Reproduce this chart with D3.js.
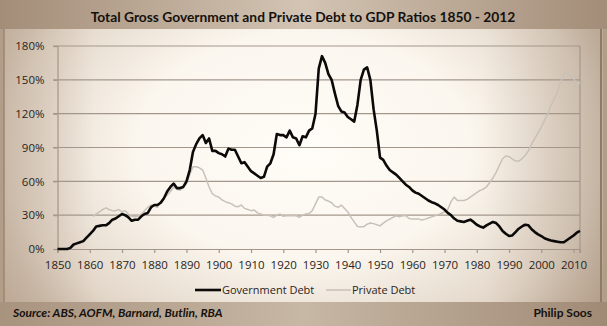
<!DOCTYPE html>
<html><head><meta charset="utf-8">
<script src="https://cdn.jsdelivr.net/npm/d3@7"></script>
<style>html,body{margin:0;padding:0;background:#fff;}svg{display:block;}</style>
</head><body>
<svg id="chart" width="607" height="326"></svg>
<script>
const startYear = 1850;
const govDebt = [0,0,0,0,1,4,5,6,7,10,13,16,20,20.5,21,21,23,26,27,29,31,30,28,25,26,26,29,31,32,37,39,39,41,45,51,55,58,54,54,55,60,70,86,93,98,101,94,98,87,87,85,84,82,89,88,88,82,76,77,73,69,67,65,63,64,73,76,84,102,101,101,99,105,99,98,92,100,99,105,107,120,160,171,165,155,150,138,127,122,121,117,115,113,128,150,159,161,150,124,105,81,79,74,70,68,66,63,60,57,55,52,50,49,47,45,43,41.5,40.5,39,37,35,32,30,27,25,24.5,24,25,26,24,21.5,20,19,21,22.5,24,23,20,16,13.5,11.5,12,15,18,20,21.5,21,17.5,15,13,11.5,9.5,8.5,7.5,7,6.5,6,6,8,10,12,14.5,16];
const privateStart = 1861;
const privateDebt = [29,31,33,35,36.5,35,34,34,35,33,34,31,29,28.5,29,31,34,37,39,38,37,42,45,48,51,55,53,52,55,58,66,73,73,72,70,63,55,49,47,46,43.5,42,41,40,38,37.5,39,36,35,34,34.5,32,31,30,30,29.5,28,30,31,29,29.5,29.5,29.5,29.5,28,30,31,31.5,34,40,46,46,43.5,42.5,41,38,37,39,36,33,28,24,20,19.8,19.8,22,23,22.5,21.5,20.5,23,25,26.5,28,29.5,28.6,29.5,29.5,27,26.5,26.5,26.5,25.7,26.5,27.5,28.5,29.5,30.5,31.5,33,35,42,46,43,43,43,44,46,48,50,52,53,55,59,63,68,74,80,82.5,82,80,78,78,80,83,87,93,98,103,108,114,120,127,133,139,148,155,156,153,152,144,148];
const yTicks = [0,30,60,90,120,150,180];
const xTicks = [1850,1860,1870,1880,1890,1900,1910,1920,1930,1940,1950,1960,1970,1980,1990,2000,2010];
const seriesNames = ["Government Debt","Private Debt"];
const titleText = "Total Gross Government and Private Debt to GDP Ratios 1850 - 2012";
const sourceText = "Source: ABS, AOFM, Barnard, Butlin, RBA";
const authorText = "Philip Soos";

const govData = govDebt.map((v,i)=>({year:startYear+i,value:v}));
const privData = privateDebt.map((v,i)=>({year:privateStart+i,value:v}));

const W=607,H=326;
const svg=d3.select("#chart");
const defs=svg.append("defs");

const rg=defs.append("radialGradient").attr("id","vig").attr("cx","0.5").attr("cy","0.45").attr("r","0.62").attr("gradientTransform","translate(0.5,0.45) scale(1,1.25) translate(-0.5,-0.45)");
rg.append("stop").attr("offset","0").attr("stop-color","#fffdf8");
rg.append("stop").attr("offset","0.45").attr("stop-color","#fbf6ee");
rg.append("stop").attr("offset","0.8").attr("stop-color","#e2d6c8");
rg.append("stop").attr("offset","1").attr("stop-color","#c4b19e");

const tg=defs.append("linearGradient").attr("id","band").attr("x1","0").attr("x2","1").attr("y1","0").attr("y2","0");
tg.append("stop").attr("offset","0").attr("stop-color","#a38d78");
tg.append("stop").attr("offset","0.5").attr("stop-color","#d3c4b3");
tg.append("stop").attr("offset","1").attr("stop-color","#a38d78");

const fg=defs.append("linearGradient").attr("id","foot").attr("x1","0").attr("x2","1").attr("y1","0").attr("y2","0");
fg.append("stop").attr("offset","0").attr("stop-color","#a8937e");
fg.append("stop").attr("offset","0.5").attr("stop-color","#c7b7a5");
fg.append("stop").attr("offset","1").attr("stop-color","#a08a75");

const lg=defs.append("linearGradient").attr("id","leftshade").attr("x1","0").attr("x2","1");
lg.append("stop").attr("offset","0").attr("stop-color","#b8a390").attr("stop-opacity",0.55);
lg.append("stop").attr("offset","0.15").attr("stop-color","#b8a390").attr("stop-opacity",0.0);
lg.append("stop").attr("offset","0.8").attr("stop-color","#b8a390").attr("stop-opacity",0.0);
lg.append("stop").attr("offset","1").attr("stop-color","#a08a75").attr("stop-opacity",0.45);

svg.append("rect").attr("width",W).attr("height",H).attr("fill","#b29d89");
svg.append("rect").attr("x",4).attr("y",0).attr("width",W-8).attr("height",H).attr("fill","url(#vig)");
svg.append("rect").attr("x",4).attr("y",0).attr("width",W-8).attr("height",H).attr("fill","url(#leftshade)");
svg.append("rect").attr("x",0).attr("y",0).attr("width",W).attr("height",29).attr("fill","url(#band)");
svg.append("rect").attr("x",0).attr("y",302).attr("width",W).attr("height",24).attr("fill","url(#foot)");
svg.append("line").attr("x1",4).attr("x2",4).attr("y1",29).attr("y2",302).attr("stroke","#9c8672").attr("stroke-width",1.5);
svg.append("line").attr("x1",601).attr("x2",601).attr("y1",29).attr("y2",302).attr("stroke","#8f7a66").attr("stroke-width",2);

const x=d3.scaleLinear().domain([1850,2012]).range([57.5,580]);
const y=d3.scaleLinear().domain([0,180]).range([249,46]);

const grid="#a3978b";
svg.append("g").selectAll("line").data(yTicks.filter(d=>d>0)).join("line")
  .attr("x1",53).attr("x2",580).attr("y1",d=>y(d)).attr("y2",d=>y(d))
  .attr("stroke",grid).attr("stroke-width",1.2);
svg.append("line").attr("x1",580).attr("x2",580).attr("y1",y(180)).attr("y2",y(0)).attr("stroke",grid).attr("stroke-width",1.2);

const yAxis=d3.axisLeft(y).tickValues(yTicks).tickSize(4).tickPadding(9).tickFormat(d=>d+"%");
const gy=svg.append("g").attr("transform","translate(57.5,0)").call(yAxis);
gy.select(".domain").attr("stroke",grid).attr("stroke-width",1.2);
gy.selectAll(".tick line").attr("stroke",grid).attr("stroke-width",1.2);
gy.selectAll("text").attr("font-family","'Open Sans',sans-serif").attr("font-size",11.5).attr("fill","#2a2420");

const xAxis=d3.axisBottom(x).tickValues(xTicks).tickSize(4).tickPadding(8).tickFormat(d3.format("d"));
const gx=svg.append("g").attr("transform","translate(0,249)").call(xAxis);
gx.select(".domain").attr("stroke",grid).attr("stroke-width",1.2);
gx.selectAll(".tick line").attr("stroke",grid).attr("stroke-width",1.2);
gx.selectAll("text").attr("font-family","'Open Sans',sans-serif").attr("font-size",11.5).attr("fill","#2a2420");
svg.append("line").attr("x1",580).attr("x2",580).attr("y1",249).attr("y2",253).attr("stroke",grid).attr("stroke-width",1.2);

const line=d3.line().x(d=>x(d.year)).y(d=>y(d.value));
svg.append("path").datum(privData).attr("d",line).attr("fill","none").attr("stroke","#c9c1b8").attr("stroke-width",1.5).attr("stroke-linejoin","round");
svg.append("path").datum(govData).attr("d",line).attr("fill","none").attr("stroke","#0b0a09").attr("stroke-width",2.6).attr("stroke-linejoin","round");

svg.append("text").attr("x",303).attr("y",22).attr("text-anchor","middle")
  .attr("font-family","Lato,sans-serif").attr("font-weight","bold").attr("font-size",13.8).attr("fill","#15110e").text(titleText);

const leg=svg.append("g").attr("font-family","'Open Sans',sans-serif").attr("font-size",11).attr("fill","#2a2420");
leg.append("line").attr("x1",195).attr("x2",221).attr("y1",290).attr("y2",290).attr("stroke","#0b0a09").attr("stroke-width",2.6);
leg.append("text").attr("x",222).attr("y",294).text(seriesNames[0]);
leg.append("line").attr("x1",326).attr("x2",351).attr("y1",290).attr("y2",290).attr("stroke","#c9c1b8").attr("stroke-width",1.5);
leg.append("text").attr("x",352).attr("y",294).text(seriesNames[1]);

svg.append("text").attr("x",13).attr("y",317).attr("font-family","Lato,sans-serif").attr("font-weight","bold").attr("font-style","italic").attr("font-size",12).attr("fill","#15110e").text(sourceText);
svg.append("text").attr("x",592).attr("y",317).attr("text-anchor","end").attr("font-family","Lato,sans-serif").attr("font-weight","bold").attr("font-size",12).attr("fill","#15110e").text(authorText);
</script>
</body></html>
